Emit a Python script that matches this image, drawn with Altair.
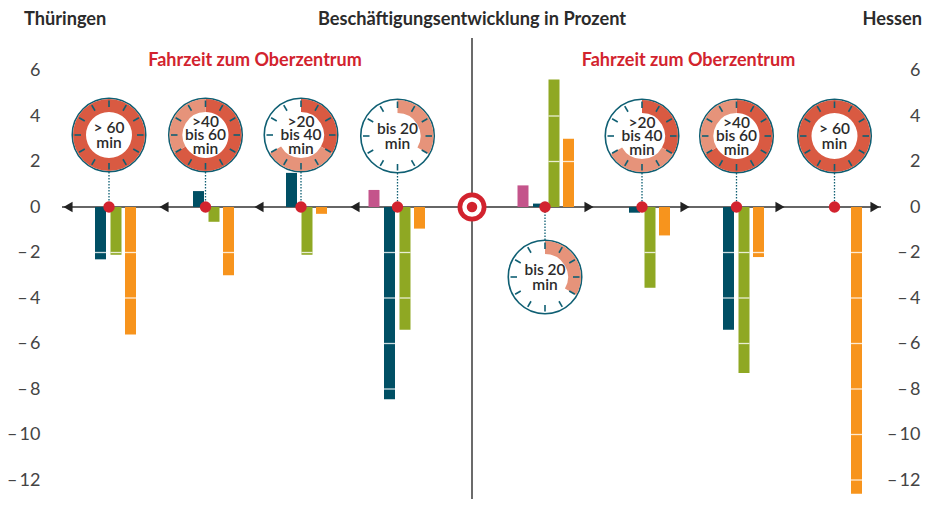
import math
import altair as alt
import pandas as pd

# ---- values ----
regions = ["Thüringen"] * 4 + ["Hessen"] * 4
times = ["> 60|min", ">40|bis 60|min", ">20|bis 40|min", "bis 20|min",
         "bis 20|min", ">20|bis 40|min", ">40|bis 60|min", "> 60|min"]
pink = [None, None, None, 0.75, 0.95, None, None, None]
teal = [-2.3, 0.7, 1.5, -8.45, 0.15, -0.25, -5.4, None]
green = [-2.1, -0.65, -2.1, -5.4, 5.6, -3.55, -7.3, None]
orange = [-5.6, -3.0, -0.3, -0.95, 3.0, -1.25, -2.2, -12.6]
ring_dark = [360, 240, 120, 0, 0, 120, 240, 360]
ring_light = [0, 120, 120, 120, 120, 120, 120, 0]
y_ticks = [6, 4, 2, 0, -2, -4, -6, -8, -10, -12]
series_names = ["pink", "teal", "green", "orange"]
series_values = [pink, teal, green, orange]

# ---- layout ----
COL = dict(pink="#C4548B", teal="#004F64", green="#8FA823", orange="#F7941D")
RED = "#D2232E"
DIAL = "#0F5F73"
FONT = "Lato"
PX = 22.75
Y0 = 207
X_L, X_R, Y_T, Y_B = 45, 900, 60, 499
group_x = [95, 193, 286, 384, 533, 629, 723, 821]
slot_off = [-15.5, 0, 15.5, 30]
dial_x = [109, 205.5, 301, 397.5, 545, 642, 736.5, 834.5]
dial_y = [135, 135, 135, 136, 277, 136, 136, 136]
BW = 11


def v(py):
    return (Y0 - py) / PX


xs = alt.Scale(domain=[X_L, X_R], nice=False, zero=False)
ys = alt.Scale(domain=[v(Y_B), v(Y_T)], nice=False, zero=False)
X = lambda f: alt.X(f, type="quantitative", scale=xs, axis=None, title=None)
Y = lambda f: alt.Y(f, type="quantitative", scale=ys, axis=None, title=None)
X2 = lambda f: alt.X2(f)
Y2 = lambda f: alt.Y2(f)

bars, gaps = [], []
for i in range(8):
    for off, name, vals in zip(slot_off, series_names, series_values):
        val = vals[i]
        if val is None:
            continue
        x0 = group_x[i] + off
        bars.append(dict(region=regions[i], time=times[i], series=name, x=x0, x1=x0 + BW, val=val, zero=0))
        for k in y_ticks:
            if k != 0 and (0 < k < val or val < k < 0):
                gaps.append(dict(x=x0, x1=x0 + BW, val=k))
bars = pd.DataFrame(bars)
gaps = pd.DataFrame(gaps)

dials = pd.DataFrame(dict(x=dial_x, y=[v(p) for p in dial_y], ax=[v(Y0)] * 8,
                          stem=[v(p + (37 if p < Y0 else -37)) for p in dial_y]))
lines = []
for i in range(8):
    parts = times[i].split("|")
    offs = [-13.5, 0, 13.5] if len(parts) == 3 else [-7, 8]
    for t, o in zip(parts, offs):
        lines.append(dict(x=dial_x[i], y=v(dial_y[i] + o), t=t))
lines = pd.DataFrame(lines)
seg = []
for i in range(8):
    d, l = math.radians(ring_dark[i]), math.radians(ring_light[i])
    if d > 0:
        seg.append(dict(x=dial_x[i], y=v(dial_y[i]), a0=0, a1=d, c="dark"))
    if l > 0:
        seg.append(dict(x=dial_x[i], y=v(dial_y[i]), a0=d, a1=d + l, c="light"))
seg = pd.DataFrame(seg)
ticks = []
for i in range(8):
    for h in range(12):
        a = math.radians(h * 30)
        ticks.append(dict(x=dial_x[i] + 28 * math.sin(a), x1=dial_x[i] + 34.5 * math.sin(a),
                          y=v(dial_y[i] - 28 * math.cos(a)), y1=v(dial_y[i] - 34.5 * math.cos(a))))
ticks = pd.DataFrame(ticks)

arrows = pd.DataFrame(dict(x=[68, 164, 259, 355, 589, 685, 780, 875],
                           shape=["triangle-left"] * 4 + ["triangle-right"] * 4, y=[0] * 8))
head = pd.DataFrame(dict(
    t=["Thüringen", "Beschäftigungsentwicklung in Prozent", "Hessen"],
    x=[24, 472, 922], y=[v(20)] * 3, a=["left", "center", "right"]))
sub = pd.DataFrame(dict(t=["Fahrzeit zum Oberzentrum"] * 2, x=[255, 688.5], y=[v(61)] * 2))

labexpr = "datum.value < 0 ? '–\u2009' + abs(datum.value) : '' + datum.value"
ax_common = dict(values=y_ticks, labelExpr=labexpr, domain=False, ticks=False, grid=False, title=None,
                 labelFont=FONT, labelFontSize=18, labelFontWeight=400, labelColor="#444444")
axis_df = pd.DataFrame(dict(y=y_ticks, x=[X_L] * 10))
axis_left = alt.Chart(axis_df).mark_point(opacity=0).encode(
    x=X("x"), y=alt.Y("y:Q", scale=ys, axis=alt.Axis(orient="left", labelPadding=5, **ax_common)))
axis_right = alt.Chart(axis_df).mark_point(opacity=0).encode(
    x=X("x"), y=alt.Y("y:Q", scale=ys, axis=alt.Axis(orient="right", labelPadding=20, labelAlign="right", **ax_common)))

vline = alt.Chart(pd.DataFrame(dict(x=[472], a=[v(38)], b=[v(499)]))).mark_rule(color="#6B6B6B", strokeWidth=2).encode(
    x=X("x"), y=Y("a"), y2=Y2("b"))
baseline = alt.Chart(pd.DataFrame(dict(x=[62], x1=[881], y=[0]))).mark_rule(color="#333333", strokeWidth=1.6).encode(
    x=X("x"), x2=X2("x1"), y=Y("y"))
stems = alt.Chart(dials).mark_rule(color=DIAL, strokeWidth=1.3, strokeDash=[1.5, 1.5]).encode(
    x=X("x"), y=Y("stem"), y2=Y2("ax"))
bar_layer = alt.Chart(bars).mark_rect().encode(
    x=X("x"), x2=X2("x1"), y=Y("val"), y2=Y2("zero"),
    color=alt.Color("series:N", scale=alt.Scale(domain=series_names, range=[COL[s] for s in series_names]), legend=None))
gap_layer = alt.Chart(gaps).mark_rule(color="white", strokeWidth=1.3, opacity=0.8).encode(
    x=X("x"), x2=X2("x1"), y=Y("val"))
arrow_layer = alt.Chart(arrows).mark_point(filled=True, size=110, opacity=1, color="#222222").encode(
    x=X("x"), y=Y("y"), shape=alt.Shape("shape:N", scale=None))
dots = alt.Chart(dials).mark_point(filled=True, size=130, opacity=1, color=RED).encode(x=X("x"), y=Y("ax"))
disk = alt.Chart(dials).mark_point(filled=True, size=5400, fill="white", stroke=DIAL, strokeWidth=1.6, opacity=1).encode(
    x=X("x"), y=Y("y"))
ring = alt.Chart(seg).mark_arc(radius=36, radius2=23).encode(
    x=X("x"), y=Y("y"),
    theta=alt.Theta("a0:Q", scale=None, stack=None), theta2=alt.Theta2("a1:Q"),
    color=alt.Color("c:N", scale=alt.Scale(domain=["dark", "light"], range=["#D95A42", "#E6937A"]), legend=None))
tick_layer = alt.Chart(ticks).mark_rule(color=DIAL, strokeWidth=1.6).encode(
    x=X("x"), x2=X2("x1"), y=Y("y"), y2=Y2("y1"))
dial_text = alt.Chart(lines).mark_text(font=FONT, fontSize=15.5, fontWeight=600, color="#2B2B2B",
                                       baseline="middle", align="center").encode(
    x=X("x"), y=Y("y"), text="t:N")
tar = pd.DataFrame(dict(x=[472], y=[0]))
t1 = alt.Chart(tar).mark_point(filled=True, size=840, opacity=1, color=RED).encode(x=X("x"), y=Y("y"))
t2 = alt.Chart(tar).mark_point(filled=True, size=380, opacity=1, color="white").encode(x=X("x"), y=Y("y"))
t3 = alt.Chart(tar).mark_point(filled=True, size=110, opacity=1, color=RED).encode(x=X("x"), y=Y("y"))
head_layers = [alt.Chart(head[head.a == a]).mark_text(font=FONT, fontSize=18.2, fontWeight=700, color="#2B2B2B", align=a, baseline="middle").encode(
    x=X("x"), y=Y("y"), text="t:N") for a in ["left", "center", "right"]]
sub_layer = alt.Chart(sub).mark_text(font=FONT, fontSize=18, fontWeight=700, color=RED, align="center", baseline="middle").encode(
    x=X("x"), y=Y("y"), text="t:N")

chart = alt.layer(
    axis_left, axis_right, vline, baseline, stems, bar_layer, gap_layer, arrow_layer, dots,
    disk, ring, tick_layer, dial_text, t1, t2, t3, *head_layers, sub_layer
).resolve_axis(y="independent").resolve_scale(y="shared", x="shared", color="independent", shape="independent").properties(
    width=X_R - X_L, height=Y_B - Y_T,
    padding=dict(left=X_L - 8, top=Y_T - 8, right=927 - (X_R - 8) - 8, bottom=0),
    autosize=alt.AutoSizeParams(type="none"), background="white",
).configure_view(stroke=None)

chart.save("out.html", embed_options={"renderer": "svg", "actions": False})
